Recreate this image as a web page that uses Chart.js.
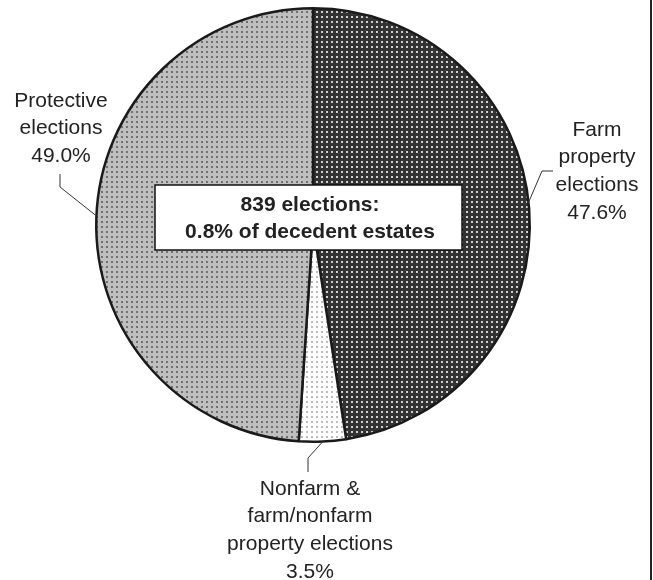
<!DOCTYPE html>
<html>
<head>
<meta charset="utf-8">
<script src="https://cdn.jsdelivr.net/npm/chart.js@4.4.0/dist/chart.umd.min.js"></script>
<style>
  html, body { margin: 0; padding: 0; background: #fff; }
  #wrap { width: 653px; height: 580px; position: relative; }
</style>
</head>
<body>
<div id="wrap"><canvas id="pie" width="653" height="580"></canvas></div>
<script>
// data
var categories = ['Farm property elections', 'Nonfarm & farm/nonfarm property elections', 'Protective elections'];
var shares = [47.6, 3.5, 49.0];
var labelLines = [
    ['Farm', 'property', 'elections', '47.6%'],
    ['Nonfarm &', 'farm/nonfarm', 'property elections', '3.5%'],
    ['Protective', 'elections', '49.0%']
];
var centerNote = ['839 elections:', '0.8% of decedent estates'];

// dotted fills like the printed original
function dots(bg, dot) {
    var c = document.createElement('canvas');
    c.width = 5; c.height = 5;
    var x = c.getContext('2d');
    x.fillStyle = bg;
    x.fillRect(0, 0, 5, 5);
    x.fillStyle = dot;
    x.fillRect(1, 1, 2, 2);
    return x.createPattern(c, 'repeat');
}

var FONT = '"Liberation Sans", Arial, sans-serif';

// label placement: angle on the rim (deg, clockwise from 12 o'clock), leader path, text centre
var callouts = [
    { angle: 84, path: [[542, 171], [553, 171]], x: 597, y: 130 },
    { angle: 177.4, path: [[308, 458], [308, 472]], x: 310, y: 489 },
    { angle: 272.4, path: [[60, 187], [60, 174]], x: 61, y: 101 }
];

var annotate = {
    id: 'annotate',
    afterDraw: function (chart) {
        var ctx = chart.ctx;
        var arc = chart.getDatasetMeta(0).data[0];
        var cx = arc.x, cy = arc.y, r = arc.outerRadius;
        ctx.save();

        // leader lines
        ctx.strokeStyle = '#333';
        ctx.lineWidth = 1;
        callouts.forEach(function (c) {
            var a = (c.angle - 90) * Math.PI / 180;
            ctx.beginPath();
            ctx.moveTo(cx + r * Math.cos(a), cy + r * Math.sin(a));
            c.path.forEach(function (p) { ctx.lineTo(p[0], p[1]); });
            ctx.stroke();
        });

        // slice labels
        ctx.fillStyle = '#222';
        ctx.font = '21px ' + FONT;
        ctx.textAlign = 'center';
        ctx.textBaseline = 'middle';
        callouts.forEach(function (c, i) {
            labelLines[i].forEach(function (t, j) {
                ctx.fillText(t, c.x, c.y + j * 27.7);
            });
        });

        // centre box
        ctx.fillStyle = '#fff';
        ctx.fillRect(155, 185, 307, 65);
        ctx.strokeStyle = '#111';
        ctx.lineWidth = 1.5;
        ctx.strokeRect(155, 185, 307, 65);
        ctx.fillStyle = '#222';
        ctx.font = 'bold 21px ' + FONT;
        ctx.fillText(centerNote[0], 310, 205);
        ctx.fillText(centerNote[1], 310, 232);

        // frame line on the right
        ctx.strokeStyle = '#222';
        ctx.lineWidth = 2;
        ctx.beginPath();
        ctx.moveTo(651, 0);
        ctx.lineTo(651, 580);
        ctx.stroke();
        ctx.restore();
    }
};

new Chart(document.getElementById('pie'), {
    type: 'pie',
    data: {
        labels: categories,
        datasets: [{
            data: shares,
            backgroundColor: [dots('#333', '#d0d0d0'), dots('#fff', '#bbb'), dots('#bfbfbf', '#707070')],
            borderColor: '#1a1a1a',
            borderWidth: 2.5
        }]
    },
    options: {
        responsive: false,
        animation: false,
        layout: { padding: { left: 95, right: 122, top: 7, bottom: 137 } },
        plugins: {
            legend: { display: false },
            tooltip: { enabled: false }
        }
    },
    plugins: [annotate]
});
</script>
</body>
</html>
